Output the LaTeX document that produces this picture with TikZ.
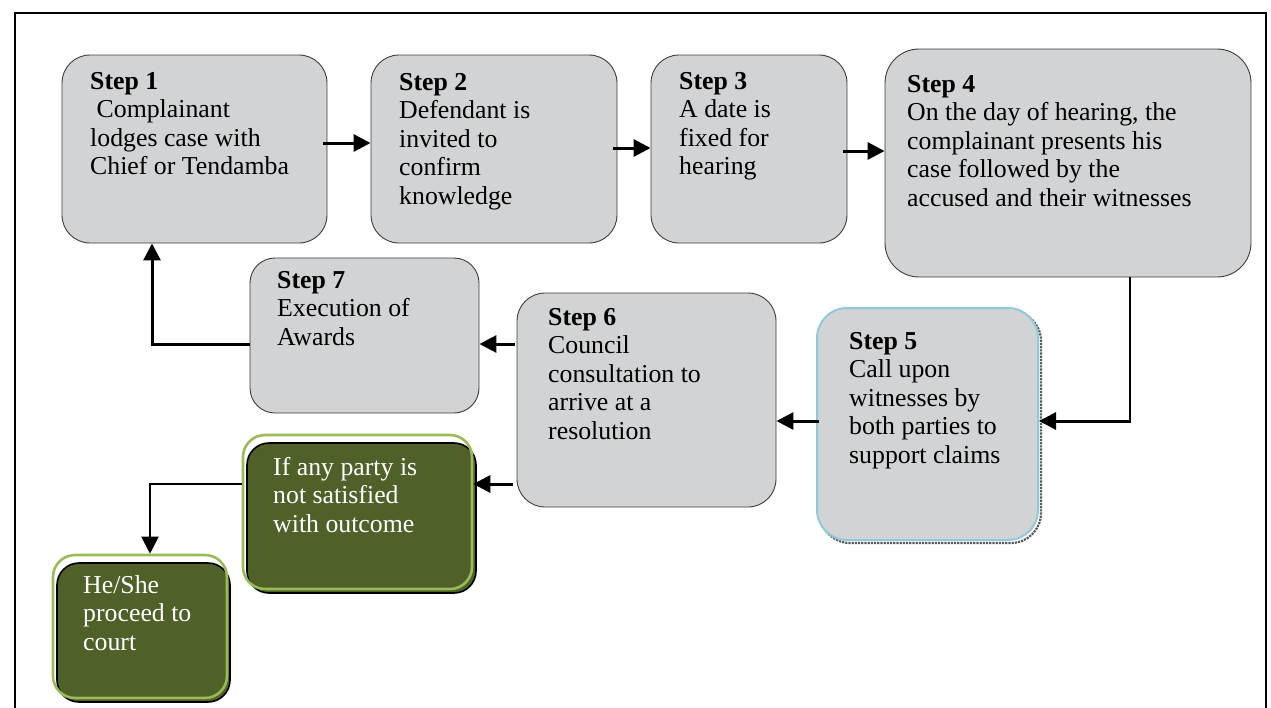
\documentclass[tikz,border=0pt]{standalone}
\usepackage{fontspec}
\setmainfont{Liberation Serif}
\usetikzlibrary{arrows.meta,calc}
\definecolor{boxgray}{HTML}{D1D3D5}
\definecolor{boxline}{HTML}{3C3C3C}
\definecolor{dkgreen}{HTML}{4F6128}
\definecolor{ltgreen}{HTML}{9BBB59}
\definecolor{ltblue}{HTML}{8DCBDB}
\newcommand\stepfont{\fontsize{25.8}{28.5}\selectfont}
\tikzset{
  stepbox/.style={draw=boxline, fill=boxgray, line width=0.9pt, rounded corners=28pt, inner sep=0pt},
  bluebox/.style={draw=ltblue, fill=boxgray, line width=2pt, rounded corners=30pt, inner sep=0pt},
  shadowbox/.style={draw=black!65, densely dotted, line width=2.2pt, rounded corners=30pt, inner sep=0pt},
  greenout/.style={draw=ltgreen, line width=2.6pt, rounded corners=22pt, inner sep=0pt},
  greenin/.style={draw=black, fill=dkgreen, line width=1.6pt, rounded corners=22pt, inner sep=0pt},
  txt/.style={anchor=north west, inner sep=0pt, align=left, font=\stepfont, execute at begin node=\strut},
  wtxt/.style={txt, text=white},
  arr/.style={line width=3pt, -{Triangle[length=17pt,width=17pt]}},
  thinarr/.style={line width=2pt, -{Triangle[length=17pt,width=17pt]}},
}
\begin{document}
\begin{tikzpicture}[x=1pt,y=-1pt]
\useasboundingbox (0,0) rectangle (1271,707);
% frame
\draw[line width=2.5pt] (15,712) -- (15,13) -- (1266,13) -- (1266,712);
% boxes
\node[stepbox, minimum width=265, minimum height=188] (s1) at (194.5,149) {};
\node[stepbox, minimum width=246, minimum height=188] (s2) at (494,149) {};
\node[stepbox, minimum width=196, minimum height=188] (s3) at (749,149) {};
\node[stepbox, minimum width=366, minimum height=228, rounded corners=34pt] (s4) at (1068,163) {};
\node[shadowbox, minimum width=221, minimum height=232] (s5sh) at (930.5,427) {};
\node[bluebox, minimum width=221, minimum height=232] (s5) at (927.5,424) {};
\node[stepbox, minimum width=259, minimum height=214] (s6) at (646.5,400) {};
\node[stepbox, minimum width=229, minimum height=155, rounded corners=25pt] (s7) at (364.5,335.5) {};
\node[greenin, minimum width=229, minimum height=150] (g1in) at (361.5,518) {};
\node[greenout, minimum width=229, minimum height=154] (g1) at (357.5,512) {};
\node[greenin, minimum width=173, minimum height=139] (g2in) at (143.5,632.5) {};
\node[greenout, minimum width=174, minimum height=143] (g2) at (140,626.5) {};
% texts
\node[txt] (t1) at (90,72) {\textbf{Step 1}\\\hspace*{0.25em}Complainant\\lodges case with\\Chief or Tendamba};
\node[txt] (t2) at (399,73) {\textbf{Step 2}\\Defendant is\\invited to\\confirm\\knowledge};
\node[txt] (t3) at (679,72) {\textbf{Step 3}\\A date is\\fixed for\\hearing};
\node[txt] (t4) at (907,75) {\textbf{Step 4}\\On the day of hearing, the\\complainant presents his\\case followed by the\\accused and their witnesses};
\node[txt] (t5) at (849,332) {\textbf{Step 5}\\Call upon\\witnesses by\\both parties to\\support claims};
\node[txt] (t6) at (548,308) {\textbf{Step 6}\\Council\\consultation to\\arrive at a\\resolution};
\node[txt] (t7) at (277,271) {\textbf{Step 7}\\Execution of\\Awards};
\node[wtxt] (tg1) at (273,457) {If any party is\\not satisfied\\with outcome};
\node[wtxt] (tg2) at (83,575) {He/She\\proceed to\\court};
% connectors
\coordinate (a12) at (323,143);
\draw[arr] (a12) -- (a12 -| s2.west);
\coordinate (a23) at (613,148);
\draw[arr] (a23) -- (a23 -| s3.west);
\coordinate (a34) at (843,151);
\draw[arr] (a34) -- (a34 -| s4.west);
\coordinate (c45) at (1130,421);
\draw[line width=2pt] (c45 |- s4.south) -- (c45);
\draw[arr] ([xshift=1pt]c45) -- (c45 -| s5.east);
\coordinate (c56) at (819,421);
\draw[arr] (c56) -- (c56 -| s6.east);
\coordinate (c67) at (515,344);
\draw[arr] (c67) -- (c67 -| s7.east);
\coordinate (c71) at (152,344);
\draw[arr] (c71 -| s7.west) -- (c71) -- (c71 |- s1.south);
\coordinate (c6g) at (513,484);
\draw[arr] (c6g) -- (c6g -| g1.east);
\coordinate (cg) at (150,484);
\draw[thinarr] (cg -| g1.west) -- (cg) -- (cg |- g2.north);
\end{tikzpicture}
\end{document}
